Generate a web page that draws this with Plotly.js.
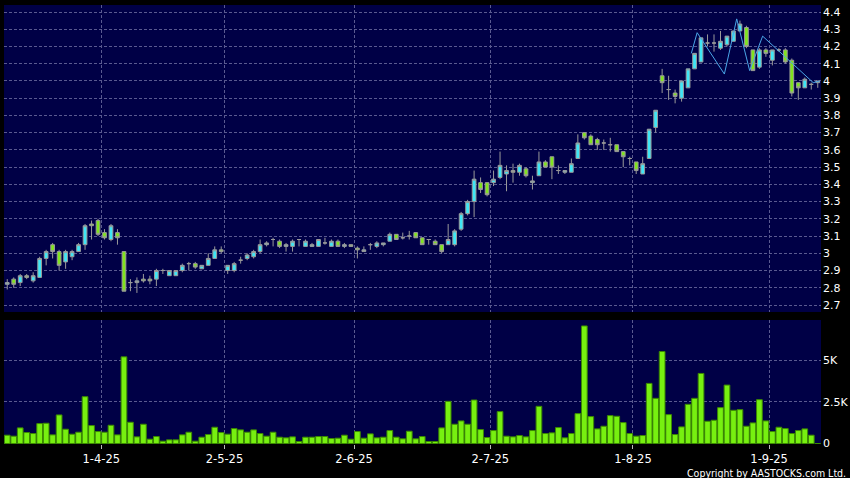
<!DOCTYPE html>
<html><head><meta charset="utf-8">
<script src="https://cdn.plot.ly/plotly-3.0.1.min.js"></script>
<style>html,body{margin:0;padding:0;background:#000;}#chart{width:850px;height:478px;}</style>
</head><body><div id="chart"></div>
<script>
const dates = [
'2025-03-11','2025-03-12','2025-03-13','2025-03-14','2025-03-17','2025-03-18','2025-03-19','2025-03-20','2025-03-21','2025-03-24','2025-03-25','2025-03-26','2025-03-27','2025-03-28','2025-03-31',
'2025-04-01','2025-04-02','2025-04-03','2025-04-07','2025-04-08','2025-04-09','2025-04-10','2025-04-11','2025-04-14','2025-04-15','2025-04-16','2025-04-17','2025-04-22','2025-04-23','2025-04-24','2025-04-25','2025-04-28','2025-04-29','2025-04-30',
'2025-05-02','2025-05-06','2025-05-07','2025-05-08','2025-05-09','2025-05-12','2025-05-13','2025-05-14','2025-05-15','2025-05-16','2025-05-19','2025-05-20','2025-05-21','2025-05-22','2025-05-23','2025-05-26','2025-05-27','2025-05-28','2025-05-29','2025-05-30',
'2025-06-02','2025-06-03','2025-06-04','2025-06-05','2025-06-06','2025-06-09','2025-06-10','2025-06-11','2025-06-12','2025-06-13','2025-06-16','2025-06-17','2025-06-18','2025-06-19','2025-06-20','2025-06-23','2025-06-24','2025-06-25','2025-06-26','2025-06-27','2025-06-30',
'2025-07-02','2025-07-03','2025-07-04','2025-07-07','2025-07-08','2025-07-09','2025-07-10','2025-07-11','2025-07-14','2025-07-15','2025-07-16','2025-07-17','2025-07-18','2025-07-21','2025-07-22','2025-07-23','2025-07-24','2025-07-25','2025-07-28','2025-07-29','2025-07-30','2025-07-31',
'2025-08-01','2025-08-04','2025-08-05','2025-08-06','2025-08-07','2025-08-08','2025-08-11','2025-08-12','2025-08-13','2025-08-14','2025-08-15','2025-08-18','2025-08-19','2025-08-20','2025-08-21','2025-08-22','2025-08-25','2025-08-26','2025-08-27','2025-08-28','2025-08-29',
'2025-09-01','2025-09-02','2025-09-03','2025-09-04','2025-09-05','2025-09-08','2025-09-09','2025-09-10'];

const open = [
2.82,2.85,2.83,2.87,2.84,2.86,2.97,3.05,3.01,2.95,2.98,3.01,3.05,3.17,3.19,
3.12,3.08,3.12,3.01,2.83,2.83,2.85,2.85,2.85,2.90,2.87,2.87,2.90,2.94,2.94,2.91,2.93,2.97,3.02,
2.90,2.90,2.96,2.97,2.98,3.01,3.05,3.08,3.07,3.04,3.04,3.08,3.04,3.04,3.04,3.06,3.04,3.07,3.04,3.05,
3.03,3.01,3.05,3.04,3.05,3.07,3.11,3.09,3.10,3.12,3.09,3.08,3.07,3.05,3.05,3.05,3.14,3.23,3.30,3.41,3.41,
3.41,3.44,3.46,3.48,3.47,3.49,3.41,3.45,3.53,3.56,3.48,3.47,3.47,3.55,3.70,3.68,3.66,3.64,3.63,3.63,3.59,3.55,
3.53,3.46,3.55,3.73,4.03,3.95,3.93,3.90,3.96,4.07,4.11,4.22,4.22,4.19,4.21,4.23,4.29,4.31,4.18,4.08,4.18,
4.12,4.18,4.18,4.12,3.99,3.96,3.98,3.99];
const high = [
2.85,2.86,2.88,2.88,2.89,2.98,3.02,3.06,3.02,3.02,3.02,3.06,3.17,3.19,3.20,
3.14,3.17,3.14,3.01,2.85,2.86,2.88,2.87,2.91,2.91,2.90,2.90,2.94,2.95,2.95,2.93,3.00,3.04,3.04,
2.93,2.95,2.98,3.00,3.02,3.08,3.07,3.09,3.08,3.06,3.08,3.08,3.08,3.06,3.08,3.09,3.08,3.08,3.06,3.05,
3.04,3.04,3.06,3.07,3.06,3.12,3.11,3.12,3.13,3.12,3.09,3.08,3.08,3.05,3.17,3.14,3.24,3.31,3.48,3.44,3.41,
3.48,3.59,3.51,3.52,3.52,3.50,3.45,3.59,3.54,3.56,3.51,3.48,3.55,3.69,3.70,3.69,3.67,3.66,3.67,3.63,3.59,3.56,
3.53,3.56,3.72,3.83,4.07,4.03,3.95,4.00,4.07,4.16,4.25,4.27,4.27,4.29,4.26,4.29,4.35,4.32,4.18,4.19,4.19,
4.18,4.19,4.19,4.13,3.99,4.02,3.99,4.00];
const low = [
2.79,2.80,2.81,2.85,2.83,2.86,2.93,2.97,2.90,2.91,2.96,3.01,3.02,3.08,3.10,
3.08,3.07,3.05,2.78,2.78,2.77,2.83,2.82,2.81,2.88,2.87,2.87,2.89,2.90,2.91,2.91,2.93,2.97,3.00,
2.88,2.89,2.94,2.96,2.97,3.00,3.04,3.04,3.03,3.01,3.01,3.04,3.04,3.04,3.04,3.05,3.04,3.04,3.03,3.04,
2.97,3.01,3.02,3.03,3.04,3.07,3.08,3.08,3.08,3.09,3.05,3.05,3.05,3.00,3.05,3.04,3.13,3.22,3.21,3.35,3.33,
3.39,3.43,3.36,3.41,3.45,3.44,3.37,3.45,3.50,3.43,3.46,3.46,3.47,3.55,3.66,3.63,3.60,3.60,3.59,3.59,3.50,3.51,
3.46,3.46,3.55,3.70,3.93,3.89,3.87,3.88,3.96,4.07,4.11,4.20,4.17,4.18,4.20,4.23,4.29,4.19,4.06,4.07,4.14,
4.09,4.17,4.10,3.91,3.89,3.96,3.95,3.96];
const close = [
2.83,2.82,2.87,2.86,2.87,2.97,3.01,3.01,2.93,3.01,3.01,3.05,3.16,3.16,3.11,
3.09,3.16,3.09,2.78,2.83,2.84,2.84,2.84,2.90,2.90,2.90,2.90,2.93,2.94,2.92,2.93,2.97,3.02,3.01,
2.93,2.94,2.96,2.99,3.01,3.05,3.06,3.08,3.04,3.05,3.07,3.08,3.07,3.05,3.08,3.06,3.07,3.04,3.05,3.04,
3.02,3.02,3.05,3.06,3.06,3.11,3.08,3.09,3.10,3.09,3.05,3.08,3.05,3.01,3.08,3.13,3.23,3.30,3.43,3.37,3.34,
3.43,3.51,3.48,3.47,3.51,3.45,3.42,3.53,3.50,3.50,3.48,3.48,3.52,3.64,3.67,3.63,3.63,3.64,3.63,3.59,3.56,3.55,
3.48,3.52,3.72,3.83,3.99,3.95,3.91,4.00,4.07,4.16,4.25,4.22,4.22,4.23,4.26,4.29,4.33,4.20,4.06,4.18,4.16,
4.18,4.18,4.11,3.93,3.96,4.01,3.98,4.00];
const volume = [
500,440,940,660,600,1200,1220,520,1720,860,560,680,2820,1080,720,
680,1100,520,5220,1280,400,1160,260,420,140,220,220,520,680,140,380,540,980,660,
560,900,820,680,820,600,440,680,380,340,400,120,380,380,420,420,300,320,500,260,
720,320,580,340,380,780,380,280,740,280,420,120,120,940,2540,1160,1360,1160,2620,840,360,
780,1920,440,400,480,400,780,2240,600,640,960,340,600,1800,7080,1620,880,1040,1680,1640,1260,600,
440,480,3620,2720,5540,1740,540,1000,2360,2720,4220,1340,1400,2160,3520,2000,2040,1040,1240,2640,1360,
720,980,900,600,780,880,500,0];

// overlay line (positions in trading-day index units)
const lineX = [105.5, 106.4, 110.6, 112.5, 114.5, 116.5, 124.3, 125.3];
const lineY = [4.16, 4.28, 4.04, 4.36, 4.06, 4.26, 3.99, 4.00];

const tickDates = ['2025-04-01','2025-05-02','2025-06-02','2025-07-02','2025-08-01','2025-09-01'];
const tickLabels = ['1-4-25','2-5-25','2-6-25','2-7-25','1-8-25','1-9-25'];
const priceTicks = [2.7,2.8,2.9,3.0,3.1,3.2,3.3,3.4,3.5,3.6,3.7,3.8,3.9,4.0,4.1,4.2,4.3,4.4];
const volTicks = [0,2500,5000];
const volTickText = ['0','2.5K','5K'];

const idx = dates.map((d,i)=>i);
const tickPos = tickDates.map(d => dates.indexOf(d) - 0.5);

const gridCol = '#5a5a90';
const font = {family:'DejaVu Sans, Verdana, sans-serif', size:11, color:'#ffffff'};
const xfont = {family:'DejaVu Sans, Verdana, sans-serif', size:11.5, color:'#ffffff'};

const traces = [
 {type:'candlestick', x:idx, open:open, high:high, low:low, close:close,
  xaxis:'x', yaxis:'y',
  increasing:{line:{color:'#9a9a9a', width:1}, fillcolor:'#3fe6f6'},
  decreasing:{line:{color:'#9a9a9a', width:1}, fillcolor:'#80e41e'},
  whiskerwidth:0, hoverinfo:'skip', showlegend:false},
 {type:'scatter', mode:'lines', x:lineX, y:lineY, xaxis:'x', yaxis:'y',
  line:{color:'#4aa6e8', width:1}, hoverinfo:'skip', showlegend:false},
 {type:'bar', x:idx, y:volume, xaxis:'x', yaxis:'y2',
  marker:{color:'#77f010', line:{color:'#3c8a00', width:1}},
  hoverinfo:'skip', showlegend:false}
];

const layout = {
 width:850, height:478,
 paper_bgcolor:'#000000', plot_bgcolor:'#000046',
 margin:{l:4, r:29, t:5, b:34, pad:0},
 font:font,
 showlegend:false,
 bargap:0.12, boxgap:0.18,
 xaxis:{range:[-0.5,125.5], anchor:'y2', rangeslider:{visible:false},
   tickmode:'array', tickvals:tickPos, ticktext:tickLabels,
   showgrid:true, gridcolor:gridCol, griddash:'3px,2px', gridwidth:1,
   ticks:'outside', ticklen:4, tickcolor:'#bbbbbb', tickfont:xfont,
   zeroline:false, showline:false, fixedrange:true},
 yaxis:{domain:[0.3007,1], side:'right', range:[2.6594,4.4406],
   tickmode:'array', tickvals:priceTicks, ticktext:priceTicks.map(v=>String(v)),
   tickprefix:'- ', ticks:'', tickfont:font, ticklabelstandoff:1,
   showgrid:true, gridcolor:gridCol, griddash:'3px,2px', gridwidth:1,
   zeroline:false, showline:false, fixedrange:true},
 yaxis2:{domain:[0,0.2825], side:'right', range:[-30,7440], anchor:'x',
   tickmode:'array', tickvals:volTicks, ticktext:volTickText,
   tickprefix:'- ', ticks:'', tickfont:font, ticklabelstandoff:1,
   showgrid:true, gridcolor:gridCol, griddash:'3px,2px', gridwidth:1,
   zeroline:false, showline:false, fixedrange:true},
 annotations:[{text:'Copyright by AASTOCKS.com Ltd.', xref:'paper', yref:'paper',
   x:1.0330, y:-0.0660, xanchor:'right', yanchor:'middle', showarrow:false,
   font:{family:'DejaVu Sans Condensed, Liberation Sans Narrow, DejaVu Sans, sans-serif', size:10.5, color:'#ffffff'}}]
};

Plotly.newPlot('chart', traces, layout, {staticPlot:true, displayModeBar:false});
</script></body></html>
